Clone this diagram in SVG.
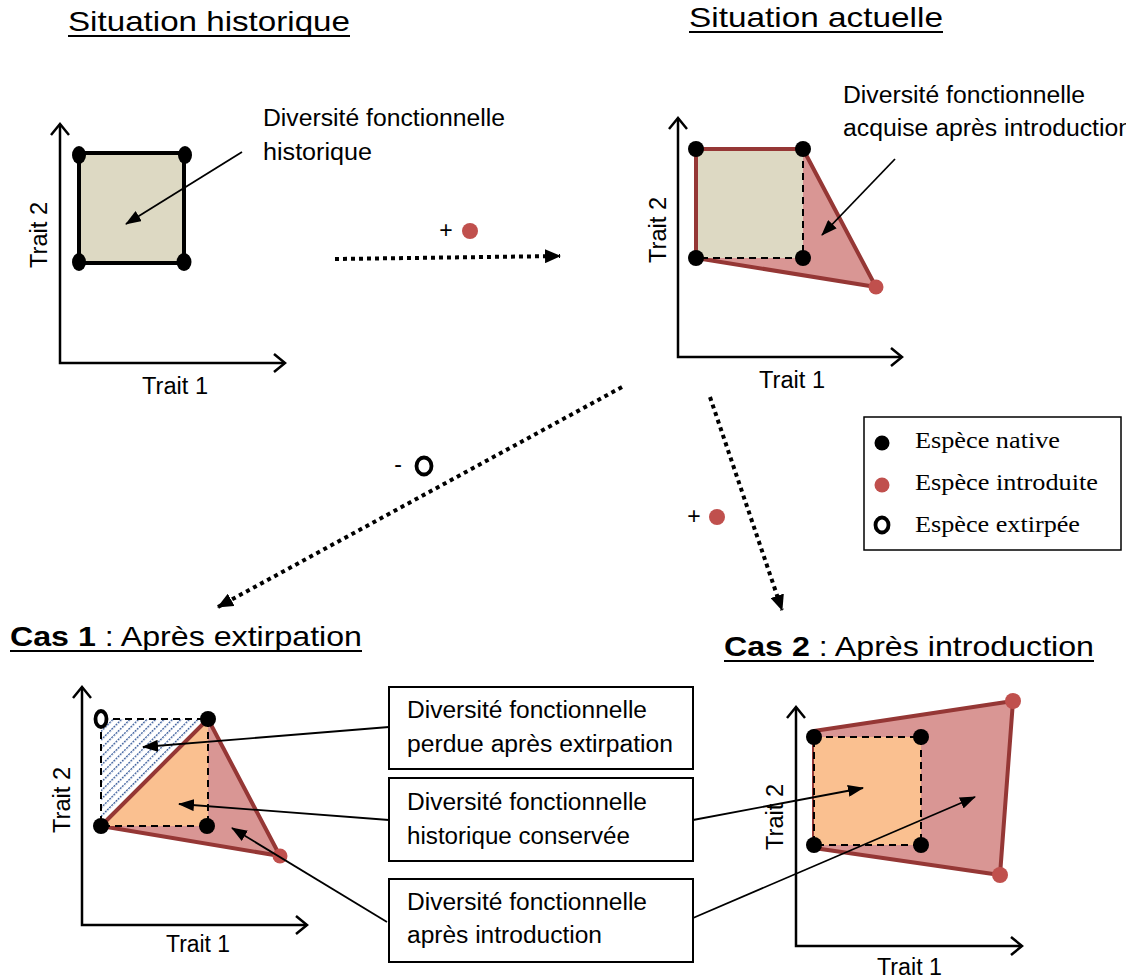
<svg xmlns="http://www.w3.org/2000/svg" width="1126" height="979" viewBox="0 0 1126 979">
<style>
.lbl{font-family:"Liberation Sans",Arial,sans-serif;font-size:23px;fill:#000}
.ttl{font-family:"Liberation Sans",Arial,sans-serif;font-size:28px;fill:#000}
.leg{font-family:"Liberation Serif","Times New Roman",serif;font-size:24px;fill:#000}
.axis{fill:none;stroke:#000;stroke-width:2.5}
.call{fill:none;stroke:#000;stroke-width:1.8}
.dotted{fill:none;stroke:#000;stroke-width:4;stroke-dasharray:4 4}
.nat{fill:#000}
.intro{fill:#C0504D}
.ext{fill:#fff;stroke:#000;stroke-width:3.8}
.redpoly{fill:#D99694;stroke:#953735;stroke-width:4;stroke-linejoin:round}
.dash{fill:none;stroke:#000;stroke-width:2;stroke-dasharray:7 5}
.box{fill:#fff;stroke:#000;stroke-width:2}
</style>
<defs>
<marker id="ah" markerWidth="16" markerHeight="12" refX="15" refY="6" orient="auto" markerUnits="userSpaceOnUse">
<path d="M0,0 L16,6 L0,12 Z" fill="#000"/>
</marker>
<marker id="dh" markerWidth="16" markerHeight="14" refX="15" refY="7" orient="auto" markerUnits="userSpaceOnUse">
<path d="M0,0 L16,7 L0,14 Z" fill="#000"/>
</marker>
<pattern id="hatch" width="6" height="6" patternUnits="userSpaceOnUse" patternTransform="rotate(45)">
<rect width="6" height="6" fill="#fff"/>
<line x1="0" y1="0" x2="0" y2="6" stroke="#2F5496" stroke-width="2.6" stroke-dasharray="2 1"/>
</pattern>
</defs>

<!-- Titles -->
<g id="titles">
<text class="ttl" x="68" y="31" textLength="282" lengthAdjust="spacingAndGlyphs">Situation historique</text>
<line x1="68" y1="36" x2="350" y2="36" stroke="#000" stroke-width="1.8"/>
<text class="ttl" x="689" y="27" textLength="254" lengthAdjust="spacingAndGlyphs">Situation actuelle</text>
<line x1="689" y1="32" x2="943" y2="32" stroke="#000" stroke-width="1.8"/>
<text class="ttl" x="10" y="646" textLength="352" lengthAdjust="spacingAndGlyphs"><tspan font-weight="bold">Cas 1</tspan> : Après extirpation</text>
<line x1="10" y1="651" x2="362" y2="651" stroke="#000" stroke-width="1.8"/>
<text class="ttl" x="724" y="656" textLength="370" lengthAdjust="spacingAndGlyphs"><tspan font-weight="bold">Cas 2</tspan> : Après introduction</text>
<line x1="724" y1="661" x2="1094" y2="661" stroke="#000" stroke-width="1.8"/>
</g>

<!-- Panel 1: historique -->
<g id="panel-historique">
<polyline class="axis" points="60,124 60,363 285,363"/>
<polyline class="axis" points="51,135 60,124 69,135"/>
<polyline class="axis" points="274,354 285,363 274,372"/>
<text class="lbl" transform="translate(47,235) rotate(-90)" text-anchor="middle" textLength="66" lengthAdjust="spacingAndGlyphs">Trait 2</text>
<text class="lbl" x="142" y="394" textLength="66" lengthAdjust="spacingAndGlyphs">Trait 1</text>
<rect x="79" y="153" width="105" height="110" fill="#DDD9C3" stroke="#000" stroke-width="4"/>
<ellipse class="nat" cx="79" cy="155" rx="7" ry="9"/>
<ellipse class="nat" cx="185" cy="155" rx="7" ry="9"/>
<ellipse class="nat" cx="79" cy="262" rx="7" ry="9"/>
<ellipse class="nat" cx="184" cy="262" rx="7.5" ry="9"/>
<text class="lbl" x="263" y="126" textLength="242" lengthAdjust="spacingAndGlyphs">Diversité fonctionnelle</text>
<text class="lbl" x="263" y="160" textLength="109" lengthAdjust="spacingAndGlyphs">historique</text>
</g>

<!-- Panel 2: actuelle -->
<g id="panel-actuelle">
<polyline class="axis" points="678,118 678,357 902,357"/>
<polyline class="axis" points="669,129 678,118 687,129"/>
<polyline class="axis" points="891,348 902,357 891,366"/>
<text class="lbl" transform="translate(666,230) rotate(-90)" text-anchor="middle" textLength="66" lengthAdjust="spacingAndGlyphs">Trait 2</text>
<text class="lbl" x="759" y="388" textLength="66" lengthAdjust="spacingAndGlyphs">Trait 1</text>
<polygon class="redpoly" points="696,149 803,149 876,287 696,258"/>
<rect x="697" y="151" width="106" height="107" fill="#DDD9C3"/>
<polyline points="696,258 696,149 803,149" fill="none" stroke="#953735" stroke-width="4"/>
<polyline class="dash" points="803,149 803,258 696,258"/>
<circle class="nat" cx="696" cy="149" r="8"/>
<circle class="nat" cx="803" cy="149" r="8"/>
<circle class="nat" cx="696" cy="258" r="8"/>
<circle class="nat" cx="803" cy="258" r="8"/>
<circle class="intro" cx="876" cy="287" r="7.5"/>
<text class="lbl" x="843" y="103" textLength="242" lengthAdjust="spacingAndGlyphs">Diversité fonctionnelle</text>
<text class="lbl" x="843" y="136" textLength="289" lengthAdjust="spacingAndGlyphs">acquise après introduction</text>
</g>

<!-- Panel 3: Cas 1 -->
<g id="panel-cas1">
<polyline class="axis" points="82,687 82,925 307,925"/>
<polyline class="axis" points="73,698 82,687 91,698"/>
<polyline class="axis" points="296,916 307,925 296,934"/>
<text class="lbl" transform="translate(70,800) rotate(-90)" text-anchor="middle" textLength="66" lengthAdjust="spacingAndGlyphs">Trait 2</text>
<text class="lbl" x="166" y="952" textLength="64" lengthAdjust="spacingAndGlyphs">Trait 1</text>
<polygon class="redpoly" points="101,826 208,719 280,856"/>
<polygon points="101,826 208,719 208,826" fill="#FAC090"/>
<polygon points="101,719 208,719 101,826" fill="url(#hatch)"/>
<line x1="101" y1="826" x2="208" y2="719" stroke="#953735" stroke-width="4"/>
<rect class="dash" x="101" y="719" width="107" height="107"/>
<ellipse class="ext" cx="101" cy="719" rx="5.5" ry="8"/>
<circle class="nat" cx="208" cy="719" r="8"/>
<circle class="nat" cx="101" cy="826" r="8"/>
<circle class="nat" cx="207" cy="826" r="8"/>
<circle class="intro" cx="280" cy="856" r="7.5"/>
</g>

<!-- Panel 4: Cas 2 -->
<g id="panel-cas2">
<polyline class="axis" points="796,707 796,946 1022,946"/>
<polyline class="axis" points="787,718 796,707 805,718"/>
<polyline class="axis" points="1011,937 1022,946 1011,955"/>
<text class="lbl" transform="translate(783,817) rotate(-90)" text-anchor="middle" textLength="66" lengthAdjust="spacingAndGlyphs">Trait 2</text>
<text class="lbl" x="877" y="975" textLength="65" lengthAdjust="spacingAndGlyphs">Trait 1</text>
<polygon class="redpoly" points="814,731 1013,701 1000,875 814,848"/>
<rect x="814" y="737" width="107" height="108" fill="#FAC090"/>
<rect class="dash" x="814" y="737" width="107" height="108"/>
<circle class="nat" cx="814" cy="737" r="8"/>
<circle class="nat" cx="921" cy="737" r="8"/>
<circle class="nat" cx="814" cy="845" r="8"/>
<circle class="nat" cx="921" cy="845" r="8"/>
<circle class="intro" cx="1013" cy="701" r="8"/>
<circle class="intro" cx="1000" cy="875" r="8"/>
</g>

<!-- Label boxes -->
<g id="box-perdue">
<rect class="box" x="389" y="687" width="304" height="82"/>
<text class="lbl" x="407" y="718" textLength="240" lengthAdjust="spacingAndGlyphs">Diversité fonctionnelle</text>
<text class="lbl" x="407" y="752" textLength="266" lengthAdjust="spacingAndGlyphs">perdue après extirpation</text>
</g>
<g id="box-conservee">
<rect class="box" x="389" y="778" width="304" height="83"/>
<text class="lbl" x="407" y="810" textLength="240" lengthAdjust="spacingAndGlyphs">Diversité fonctionnelle</text>
<text class="lbl" x="407" y="844" textLength="223" lengthAdjust="spacingAndGlyphs">historique conservée</text>
</g>
<g id="box-introduction">
<rect class="box" x="389" y="879" width="304" height="83"/>
<text class="lbl" x="407" y="910" textLength="240" lengthAdjust="spacingAndGlyphs">Diversité fonctionnelle</text>
<text class="lbl" x="407" y="943" textLength="195" lengthAdjust="spacingAndGlyphs">après introduction</text>
</g>

<!-- Legend -->
<g id="legend">
<rect x="864" y="417" width="257" height="133" fill="#fff" stroke="#000" stroke-width="1.5"/>
<circle class="nat" cx="882" cy="443" r="7.5"/>
<text class="leg" x="915" y="448" textLength="145" lengthAdjust="spacingAndGlyphs">Espèce native</text>
<circle class="intro" cx="882" cy="485" r="7.5"/>
<text class="leg" x="915" y="490" textLength="183" lengthAdjust="spacingAndGlyphs">Espèce introduite</text>
<ellipse class="ext" cx="882" cy="525" rx="6.5" ry="7.5"/>
<text class="leg" x="915" y="532" textLength="165" lengthAdjust="spacingAndGlyphs">Espèce extirpée</text>
</g>

<!-- Transition symbols -->
<g id="symbols">
<text class="lbl" x="446" y="238" text-anchor="middle" font-size="18">+</text>
<circle class="intro" cx="470" cy="231" r="8"/>
<text class="lbl" x="398" y="472" text-anchor="middle" font-size="18">-</text>
<ellipse class="ext" cx="424" cy="466" rx="7.5" ry="8.5" stroke-width="4.2"/>
<text class="lbl" x="694" y="524" text-anchor="middle" font-size="18">+</text>
<circle class="intro" cx="717" cy="517" r="8"/>
</g>

<!-- Connectors -->
<g id="connectors">
<line class="dotted" x1="335" y1="259" x2="560" y2="256" marker-end="url(#dh)"/>
<line class="dotted" x1="622" y1="387" x2="218" y2="607" marker-end="url(#dh)"/>
<line class="dotted" x1="710" y1="397" x2="782" y2="610" marker-end="url(#dh)"/>
<line class="call" x1="242" y1="152" x2="126" y2="224" marker-end="url(#ah)"/>
<line class="call" x1="895" y1="159" x2="822" y2="235" marker-end="url(#ah)"/>
<line class="call" x1="389" y1="727" x2="143" y2="747" marker-end="url(#ah)"/>
<line class="call" x1="389" y1="820" x2="179" y2="804" marker-end="url(#ah)"/>
<line class="call" x1="387" y1="922" x2="232" y2="828" marker-end="url(#ah)"/>
<line class="call" x1="693" y1="820" x2="863" y2="788" marker-end="url(#ah)"/>
<line class="call" x1="693" y1="918" x2="975" y2="797" marker-end="url(#ah)"/>
</g>
</svg>
